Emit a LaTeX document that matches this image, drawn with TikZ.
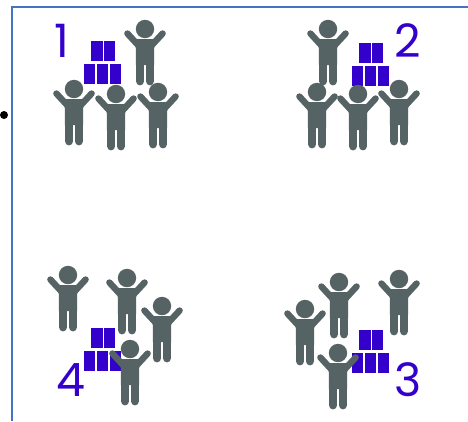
\documentclass[tikz,border=0pt]{standalone}
\usepackage{fontspec}
\setmainfont{Poppins}
\definecolor{figgray}{HTML}{566364}
\definecolor{boxblue}{HTML}{3300CC}
\definecolor{framblue}{HTML}{4472C4}
\tikzset{
  x=1pt,y=-1pt,
  digit/.style={text=boxblue,font=\fontsize{46}{46}\selectfont,inner sep=0pt},
  block/.style={fill=boxblue,draw=none},
  limb/.style={draw=figgray,line cap=round,line join=round},
  person/.pic={
    \fill[figgray] (0,0) circle (9.2);
    \draw[limb,line width=6.4] (-17.6,4.5) -- (-7,16);
    \draw[limb,line width=6.4] (17.6,4.5) -- (7,16);
    \fill[figgray] (-10.5,10) -- (10.5,10) -- (9.1,20) -- (9.1,36) -- (-9.1,36) -- (-9.1,20) -- cycle;
    \draw[limb,line width=8.4] (-4.9,30) -- (-4.9,52.2);
    \draw[limb,line width=8.4] (4.9,30) -- (4.9,52.2);
  },
  blocks/.pic={
    \fill[block] (7,-23) rectangle (18.5,-3);
    \fill[block] (19.5,-23) rectangle (30.5,-3);
    \fill[block] (0,0) rectangle (11,20);
    \fill[block] (13,0) rectangle (24,20);
    \fill[block] (26,0) rectangle (37,20);
  }
}
\begin{document}
\begin{tikzpicture}
\useasboundingbox (0,0) rectangle (468,421);
\fill[white] (0,0) rectangle (468,421);
\coordinate (frameA) at (12,421);
\coordinate (frameB) at (12,7);
\coordinate (frameC) at (468,7);
\draw[framblue,line width=2.2] (frameA) -- (frameB) -- (frameC);
\node[circle,fill=black,minimum size=8pt,inner sep=0pt] (dot) at (4,115) {};
\pic at (84,64) {blocks};
\pic at (352,66) {blocks};
\pic at (84,351) {blocks};
\pic at (352,353) {blocks};
\pic at (145,29) {person};
\pic at (74,89) {person};
\pic at (116,94) {person};
\pic at (158,92) {person};
\node[digit] (n1) at (62,41) {1};
\pic at (328,29) {person};
\pic at (317,92) {person};
\pic at (358,94) {person};
\pic at (399,89) {person};
\node[digit] (n2) at (408,41) {2};
\pic at (68,275) {person};
\pic at (127,278) {person};
\pic at (162,306) {person};
\pic at (130,349) {person};
\node[digit] (n4) at (71,380) {4};
\pic at (339,282) {person};
\pic at (399,279) {person};
\pic at (305,309) {person};
\pic at (338,353) {person};
\node[digit] (n3) at (408,380) {3};
\end{tikzpicture}
\end{document}
